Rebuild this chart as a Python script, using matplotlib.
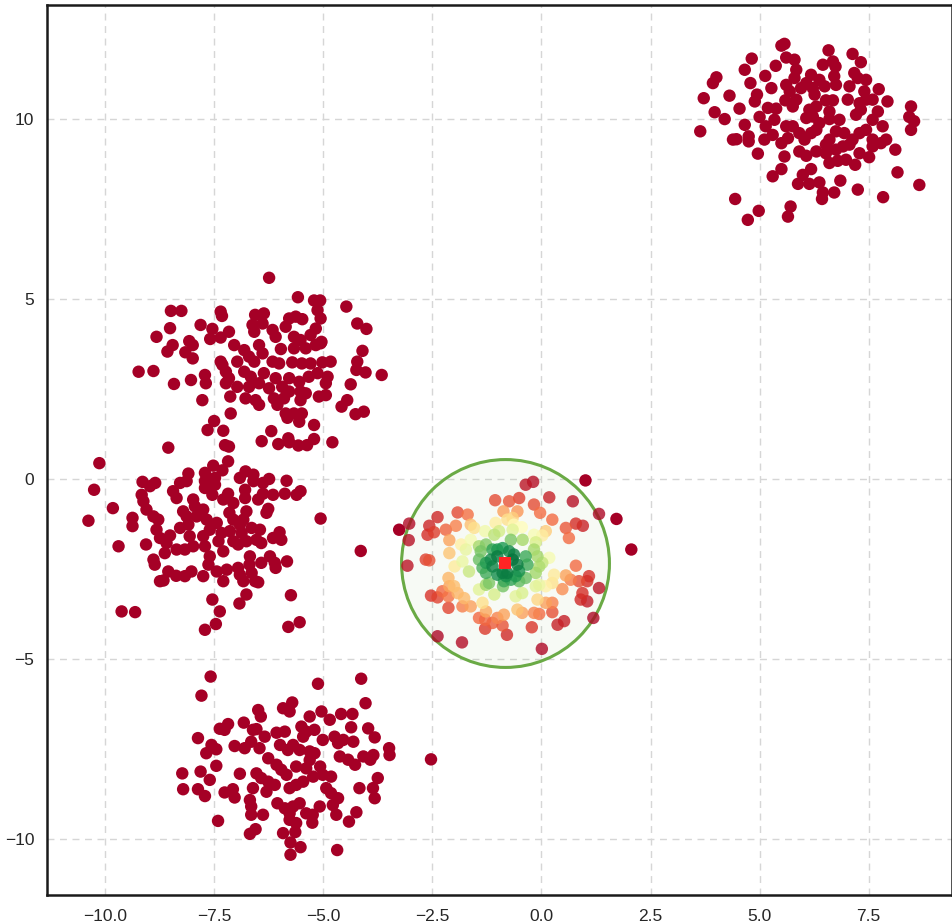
import numpy as np
import matplotlib
matplotlib.use("Agg")
import matplotlib.pyplot as plt

# ── Puntos de cada grupo (x, y) ───────────────────────────────────────────────
blob_top_right = np.array([
    (5.50, 12.04), (5.57, 12.09), (6.58, 11.91), (7.13, 11.81), (7.32, 11.58),
    (4.82, 11.68), (5.61, 11.71), (5.80, 11.65), (4.66, 11.37), (5.37, 11.48),
    (6.45, 11.51), (6.68, 11.60), (6.74, 11.46), (4.01, 11.16), (3.93, 11.00),
    (4.79, 11.00), (5.13, 11.20), (5.84, 11.37), (5.80, 11.14), (6.18, 11.23),
    (6.07, 11.00), (6.37, 11.09), (6.71, 11.19), (6.75, 10.95), (7.17, 11.28),
    (7.25, 11.14), (7.44, 11.09), (7.73, 10.83), (3.72, 10.58), (4.31, 10.65),
    (4.94, 10.68), (4.89, 10.49), (5.27, 10.86), (5.61, 10.95), (5.69, 10.77),
    (5.95, 10.86), (6.22, 10.86), (6.26, 10.68), (6.49, 10.91), (7.06, 10.91),
    (7.40, 10.77), (4.54, 10.29), (3.97, 10.19), (4.20, 10.00), (5.00, 10.06),
    (5.19, 10.31), (5.38, 10.29), (5.59, 10.52), (5.84, 10.54), (5.76, 10.35),
    (6.14, 10.26), (6.30, 10.35), (6.52, 10.52), (6.68, 10.52), (7.02, 10.54),
    (7.29, 10.44), (7.44, 10.54), (7.59, 10.54), (7.93, 10.49), (8.47, 10.35),
    (8.43, 10.06), (8.54, 9.94), (3.64, 9.66), (4.66, 9.84), (5.14, 9.80),
    (5.34, 9.98), (5.61, 9.80), (5.76, 9.80), (6.07, 10.03), (6.22, 10.07),
    (6.37, 9.89), (6.60, 10.21), (6.60, 10.00), (6.83, 9.98), (7.21, 10.12),
    (7.32, 10.26), (7.71, 10.21), (7.59, 9.98), (7.82, 9.80), (8.47, 9.70),
    (4.39, 9.43), (4.47, 9.44), (4.75, 9.52), (4.75, 9.38), (5.11, 9.43),
    (5.30, 9.56), (5.50, 9.33), (5.65, 9.47), (5.91, 9.61), (6.03, 9.43),
    (6.18, 9.61), (6.30, 9.70), (6.60, 9.43), (6.75, 9.66), (6.94, 9.61),
    (7.13, 9.43), (7.29, 9.61), (7.44, 9.70), (7.59, 9.43), (7.78, 9.33),
    (7.90, 9.43), (4.96, 9.04), (5.57, 8.96), (5.91, 9.10), (6.07, 8.98),
    (6.30, 9.10), (6.52, 9.29), (6.52, 9.05), (6.75, 9.15), (6.91, 9.24),
    (7.06, 9.29), (7.29, 9.05), (7.51, 8.94), (7.59, 9.24), (8.11, 9.15),
    (6.60, 8.78), (6.79, 8.84), (6.98, 8.87), (7.19, 8.73), (5.50, 8.61),
    (5.30, 8.41), (5.99, 8.45), (6.18, 8.61), (5.88, 8.20), (6.14, 8.20),
    (6.37, 8.24), (6.85, 8.29), (8.16, 8.52), (8.66, 8.17), (6.45, 7.96),
    (6.43, 7.78), (6.71, 7.96), (7.25, 8.04), (7.83, 7.83), (4.44, 7.78),
    (4.98, 7.45), (5.71, 7.57), (5.65, 7.29), (4.73, 7.20),
])

blob_upper_left = np.array([
    (-6.24, 5.59), (-5.58, 5.05), (-5.21, 4.96), (-5.07, 4.96), (-4.47, 4.79),
    (-8.49, 4.67), (-8.25, 4.67), (-7.35, 4.65), (-7.32, 4.53), (-5.13, 4.69),
    (-5.06, 4.46), (-6.56, 4.56), (-6.36, 4.60), (-5.78, 4.46), (-5.63, 4.51),
    (-5.48, 4.44), (-4.22, 4.32), (-4.01, 4.17), (-7.81, 4.28), (-8.51, 4.19),
    (-8.82, 3.95), (-7.54, 4.17), (-7.16, 4.09), (-7.59, 3.89), (-7.35, 3.93),
    (-6.62, 4.28), (-6.58, 4.09), (-6.39, 4.32), (-6.16, 4.14), (-6.09, 3.95),
    (-5.86, 4.23), (-5.17, 4.18), (-5.29, 4.00), (-5.67, 3.95), (-5.52, 3.86),
    (-5.04, 3.81), (-8.07, 3.83), (-7.99, 3.72), (-8.45, 3.72), (-8.57, 3.54),
    (-8.16, 3.52), (-7.99, 3.35), (-7.04, 3.72), (-6.81, 3.58), (-6.47, 3.72),
    (-5.97, 3.61), (-5.67, 3.63), (-5.40, 3.63), (-5.17, 3.72), (-5.06, 3.77),
    (-4.10, 3.56), (-7.35, 3.26), (-7.31, 3.17), (-6.97, 3.26), (-6.70, 3.40),
    (-6.58, 3.26), (-6.39, 3.49), (-6.16, 3.26), (-6.01, 3.21), (-5.71, 3.24),
    (-5.49, 3.21), (-5.29, 3.21), (-5.02, 3.24), (-4.83, 3.26), (-4.22, 3.26),
    (-4.24, 3.03), (-9.23, 2.98), (-8.89, 3.00), (-7.71, 2.89), (-7.69, 2.66),
    (-8.03, 2.75), (-8.42, 2.64), (-7.23, 2.98), (-7.16, 2.80), (-6.81, 2.98),
    (-6.66, 2.84), (-6.36, 2.94), (-6.09, 2.80), (-5.78, 2.80), (-5.55, 2.70),
    (-5.33, 2.84), (-5.13, 2.94), (-4.90, 2.84), (-4.94, 2.66), (-4.03, 2.96),
    (-3.66, 2.89), (-4.37, 2.63), (-7.23, 2.66), (-6.97, 2.56), (-6.70, 2.56),
    (-6.47, 2.66), (-6.24, 2.52), (-5.94, 2.56), (-5.78, 2.43), (-5.52, 2.43),
    (-5.40, 2.38), (-5.10, 2.29), (-4.94, 2.33), (-7.77, 2.19), (-7.13, 2.29),
    (-6.78, 2.24), (-6.55, 2.19), (-6.47, 2.06), (-6.13, 2.24), (-6.05, 2.06),
    (-5.90, 2.24), (-5.52, 2.19), (-4.45, 2.19), (-4.58, 2.01), (-4.26, 1.80),
    (-4.07, 1.87), (-7.12, 1.82), (-5.86, 1.82), (-5.82, 1.70), (-5.67, 1.82),
    (-5.49, 1.82), (-5.55, 1.59), (-7.50, 1.61), (-7.65, 1.36), (-7.29, 1.34),
    (-5.21, 1.50), (-6.19, 1.33), (-6.41, 1.05), (-6.03, 0.97), (-5.80, 1.13),
    (-5.78, 1.02), (-5.57, 0.93), (-5.37, 0.94), (-5.21, 1.11), (-4.79, 1.02),
    (-7.25, 0.94), (-7.16, 0.90), (-8.55, 0.87),
])

blob_left = np.array([
    (-10.13, 0.44), (-10.25, -0.30), (-10.38, -1.16), (-9.82, -0.81),
    (-9.69, -1.87), (-9.62, -3.68), (-9.31, -3.70), (-9.37, -1.08),
    (-9.37, -1.31), (-9.14, -0.08), (-8.97, -0.20), (-8.85, -0.11),
    (-9.16, -0.44), (-9.12, -0.62), (-9.05, -0.85), (-9.06, -1.82),
    (-8.89, -1.04), (-8.78, -1.13), (-8.82, -1.41), (-8.74, -1.64),
    (-8.89, -2.24), (-8.86, -2.38), (-8.74, -2.84), (-8.66, -2.82),
    (-8.55, -2.57), (-8.37, -2.69), (-8.63, -2.06), (-8.59, -1.78),
    (-8.51, -1.57), (-8.44, -0.34), (-8.28, -0.11), (-8.36, -0.53),
    (-8.09, 0.15), (-8.13, -0.06), (-8.21, -0.90), (-8.28, -1.36),
    (-8.36, -1.96), (-8.17, -2.70), (-8.02, -2.57), (-7.98, -0.57),
    (-7.94, -0.76), (-8.13, -1.04), (-8.09, -1.27), (-7.90, -1.04),
    (-8.06, -1.59), (-7.98, -1.87), (-8.17, -1.96), (-7.75, -2.70),
    (-7.71, 0.17), (-7.71, -0.06), (-7.71, -0.25), (-7.52, 0.37),
    (-7.48, 0.03), (-7.48, -0.16), (-7.54, -0.44), (-7.31, 0.24),
    (-7.18, 0.49), (-7.75, -0.85), (-7.67, -1.13), (-7.60, -1.41),
    (-7.75, -1.59), (-7.71, -1.87), (-7.60, -2.15), (-7.63, -2.38),
    (-7.44, -1.22), (-7.33, -1.50), (-7.40, -1.73), (-7.29, -2.01),
    (-7.44, -2.57), (-7.29, -2.84), (-7.21, -2.52), (-7.29, -0.57),
    (-7.18, -0.41), (-7.06, -0.67), (-7.15, -0.94), (-7.06, -1.13),
    (-7.14, -1.45), (-7.06, -1.73), (-7.54, -3.35), (-7.37, -3.68),
    (-7.46, -4.03), (-7.71, -4.19), (-6.91, 0.03), (-6.78, 0.21),
    (-6.60, 0.12), (-6.60, -0.06), (-6.79, -0.30), (-6.79, -0.53),
    (-6.49, -0.57), (-6.38, -0.11), (-6.24, 0.00), (-6.38, -0.41),
    (-6.15, -0.44), (-5.88, -0.41), (-5.84, -0.05), (-5.61, -0.44),
    (-5.52, -0.34), (-6.76, -0.90), (-6.83, -1.13), (-6.91, -1.27),
    (-6.87, -1.50), (-6.95, -1.82), (-6.76, -1.73), (-6.26, -0.83),
    (-6.30, -0.94), (-6.64, -1.36), (-6.45, -1.41), (-6.53, -1.69),
    (-6.42, -1.78), (-6.15, -1.64), (-6.00, -1.48), (-5.96, -1.69),
    (-6.68, -2.15), (-6.69, -2.38), (-6.42, -2.33), (-6.22, -2.15),
    (-6.09, -2.47), (-6.11, -2.33), (-5.83, -2.29), (-6.95, -2.47),
    (-6.91, -2.66), (-6.83, -2.84), (-6.64, -2.61), (-6.56, -2.84),
    (-6.49, -2.87), (-6.76, -3.21), (-6.92, -3.46), (-5.74, -3.23),
    (-5.06, -1.10), (-5.80, -4.11), (-5.54, -3.98), (-4.14, -2.00),
])

blob_bottom = np.array([
    (-7.58, -5.49), (-7.79, -6.02), (-5.12, -5.69), (-4.13, -5.55),
    (-4.03, -6.23), (-5.92, -6.37), (-5.71, -6.21), (-5.77, -6.46),
    (-6.49, -6.42), (-6.43, -6.60), (-5.31, -6.60), (-5.04, -6.46),
    (-4.85, -6.69), (-4.59, -6.53), (-4.33, -6.53), (-7.37, -6.94),
    (-7.18, -6.81), (-7.26, -6.97), (-6.82, -6.77), (-6.61, -6.97),
    (-6.53, -6.95), (-6.34, -7.16), (-6.07, -7.05), (-5.88, -7.02),
    (-5.50, -6.88), (-5.39, -7.02), (-5.20, -6.97), (-5.01, -7.25),
    (-4.74, -7.16), (-4.36, -6.90), (-3.97, -6.93), (-3.82, -7.18),
    (-7.87, -7.20), (-7.56, -7.39), (-7.45, -7.51), (-7.68, -7.62),
    (-7.03, -7.42), (-6.80, -7.48), (-6.65, -7.30), (-6.46, -7.48),
    (-6.26, -7.76), (-5.99, -7.39), (-5.81, -7.53), (-5.69, -7.39),
    (-5.46, -7.16), (-5.31, -7.57), (-5.20, -7.62), (-5.54, -7.53),
    (-4.66, -7.34), (-4.54, -7.25), (-4.31, -7.30), (-4.62, -7.71),
    (-4.43, -7.80), (-4.27, -7.94), (-4.08, -7.71), (-3.92, -7.80),
    (-3.85, -7.67), (-3.49, -7.48), (-3.48, -7.67), (-2.53, -7.79),
    (-8.23, -8.18), (-8.21, -8.62), (-7.81, -8.13), (-7.60, -8.36),
    (-7.87, -8.62), (-7.71, -8.81), (-7.45, -7.97), (-7.26, -8.71),
    (-7.07, -8.62), (-7.03, -8.85), (-6.91, -8.19), (-7.41, -9.50),
    (-6.61, -8.59), (-6.68, -8.92), (-6.65, -9.10), (-6.65, -9.33),
    (-6.53, -8.18), (-6.42, -8.31), (-6.26, -8.41), (-6.11, -8.50),
    (-6.30, -8.69), (-6.38, -9.33), (-6.68, -9.86), (-6.55, -9.73),
    (-6.07, -7.94), (-5.96, -8.08), (-5.84, -8.22), (-5.62, -7.99),
    (-5.39, -8.04), (-5.31, -7.81), (-5.07, -7.99), (-5.77, -8.59),
    (-5.62, -8.50), (-5.46, -8.41), (-5.23, -8.27), (-5.01, -8.22),
    (-4.82, -8.27), (-4.93, -8.59), (-4.82, -8.73), (-4.66, -8.87),
    (-4.78, -9.06), (-6.05, -9.01), (-5.88, -9.15), (-5.77, -9.29),
    (-5.69, -9.10), (-5.54, -9.01), (-5.39, -9.29), (-5.24, -9.33),
    (-5.08, -9.10), (-5.25, -9.55), (-5.77, -9.47), (-5.62, -9.56),
    (-5.92, -9.84), (-5.64, -9.81), (-5.75, -10.10), (-5.52, -10.23),
    (-5.75, -10.44), (-4.68, -10.31), (-4.70, -9.33), (-4.41, -9.52),
    (-4.24, -9.26), (-4.17, -8.59), (-3.86, -8.59), (-3.75, -8.31),
    (-3.82, -8.87),
])

blob_center = np.array([
    (-3.26, -1.41), (1.01, -0.04), (1.32, -0.97), (1.72, -1.11), (2.06, -1.96),
    (1.19, -3.86), (1.32, -3.03), (-0.36, -0.16), (-0.19, -0.08), (-1.06, -0.59),
    (-0.74, -0.62), (-0.51, -0.53), (0.18, -0.51), (0.72, -0.62), (-0.17, -0.71),
    (-0.03, -0.94), (-0.87, -0.90), (-0.55, -0.90), (-1.92, -0.93), (-1.69, -0.99),
    (-2.38, -1.06), (-3.03, -1.24), (-2.57, -1.30), (-2.46, -1.48), (-2.61, -1.55),
    (-2.19, -1.41), (-1.96, -1.30), (-1.62, -1.27), (-1.54, -1.36), (-1.05, -1.22),
    (-0.78, -1.13), (-0.66, -1.08), (-0.63, -1.27), (-0.45, -1.34), (0.25, -1.13),
    (0.79, -1.24), (0.95, -1.30), (0.56, -1.36), (0.10, -1.45), (0.02, -1.57),
    (0.63, -1.64), (-3.04, -1.70), (-2.11, -1.70), (-1.84, -1.82), (-1.73, -1.96),
    (-1.62, -1.69), (-1.29, -1.45), (-1.08, -1.55), (-0.97, -1.45), (-0.66, -1.41),
    (-0.43, -1.69), (-0.70, -1.69), (-0.17, -1.55), (-0.13, -1.76), (-1.27, -1.82),
    (-1.12, -1.96), (-1.39, -2.01), (-1.01, -1.96), (-0.89, -1.92), (-0.74, -2.01),
    (-0.63, -2.10), (-0.36, -2.15), (-0.32, -2.38), (-0.09, -2.15), (0.02, -2.33),
    (0.18, -2.19), (-2.11, -2.06), (-2.65, -2.24), (-2.57, -2.26), (-3.07, -2.41),
    (-1.99, -2.43), (-1.66, -2.57), (-1.43, -2.24), (-1.35, -2.47), (-1.27, -2.61),
    (-1.12, -2.43), (-1.01, -2.66), (-0.89, -2.61), (-0.78, -2.61), (-0.81, -2.70),
    (-0.59, -2.70), (-0.51, -2.84), (-0.36, -2.75), (0.79, -2.41), (0.29, -2.66),
    (0.25, -2.89), (0.56, -2.68), (0.67, -2.80), (0.86, -2.84), (1.09, -2.70),
    (1.05, -2.84), (-2.13, -2.75), (-2.11, -2.98), (-2.27, -3.12), (-2.00, -2.98),
    (-1.92, -3.17), (-2.53, -3.24), (-2.38, -3.29), (-2.13, -3.26), (-1.77, -3.31),
    (-1.43, -3.07), (-1.27, -2.94), (-1.20, -2.89), (-1.08, -3.21), (-0.88, -2.98),
    (-0.59, -3.26), (-0.44, -3.17), (-0.13, -2.98), (-0.05, -2.94), (-0.09, -3.35),
    (0.10, -3.44), (0.25, -3.44), (0.48, -3.06), (0.94, -3.17), (0.90, -3.35),
    (1.05, -3.40), (-2.13, -3.58), (-1.81, -3.54), (-1.62, -3.54), (-1.35, -3.44),
    (-1.27, -3.68), (-1.43, -3.86), (-1.29, -3.91), (-1.12, -4.00), (-1.01, -3.86),
    (-0.86, -3.77), (-0.89, -4.07), (-0.79, -4.33), (-1.29, -4.16), (-0.55, -3.63),
    (-0.44, -3.72), (-0.17, -3.72), (-0.05, -3.75), (0.25, -3.70), (0.37, -4.05),
    (0.52, -3.95), (-0.22, -4.12), (-2.38, -4.37), (-1.82, -4.54), (0.01, -4.72),
    (-1.01, -2.15), (-0.66, -2.24), (-0.55, -2.38), (-1.16, -2.24), (-1.27, -2.33),
    (-0.51, -2.56), (-0.70, -2.80), (-0.86, -2.84), (-0.17, -1.96), (-1.43, -1.87),
    (-0.05, -2.43), (-0.13, -2.61), (-1.81, -2.29), (0.10, -2.98),
])

# Ventana actual: centro y ancho de banda del kernel
WINDOW_CENTER = (-0.83, -2.34)
BANDWIDTH = 2.6
KERNEL_SIGMA = 0.9

pts = np.vstack([blob_top_right, blob_upper_left, blob_left, blob_bottom, blob_center])

# Peso gaussiano respecto al centro; fuera de la ventana vale 0
d = np.hypot(pts[:, 0] - WINDOW_CENTER[0], pts[:, 1] - WINDOW_CENTER[1])
w = np.exp(-d**2 / (2 * KERNEL_SIGMA**2))
inside = d < BANDWIDTH
w[~inside] = 0.0

cmap = plt.get_cmap("RdYlGn")
colors = cmap(w)
colors[inside, 3] = 0.8

order = np.argsort(w)

plt.rcParams["font.family"] = ["Liberation Sans", "DejaVu Sans"]

fig = plt.figure(figsize=(9.53, 9.23), dpi=100)
ax = fig.add_axes([0.0493, 0.0303, 0.9497, 0.9643])

# ventana circular (en pantalla) con relleno muy suave
ax.scatter([WINDOW_CENTER[0]], [WINDOW_CENTER[1]], s=22400, marker="o",
           facecolor=(0.42, 0.67, 0.27, 0.05), edgecolor="#6aaa45",
           linewidth=2.2, zorder=2)

ax.scatter(pts[order, 0], pts[order, 1], c=colors[order], s=80,
           linewidths=0, zorder=3)

ax.scatter([WINDOW_CENTER[0]], [WINDOW_CENTER[1]], s=64, marker="s",
           color="#ff2424", linewidths=0, zorder=4)

ax.set_xlim(-11.33, 9.41)
ax.set_ylim(-11.56, 13.17)
ax.set_xticks([-10.0, -7.5, -5.0, -2.5, 0.0, 2.5, 5.0, 7.5])
ax.set_yticks([-10, -5, 0, 5, 10])

ax.grid(True, linestyle=(0, (5, 4)), color="#d6d6d6", linewidth=1.0)
ax.set_axisbelow(True)
ax.tick_params(length=0, labelsize=12.5, labelcolor="#262626")
ax.tick_params(axis="x", pad=10)
ax.tick_params(axis="y", pad=9)
for sp in ax.spines.values():
    sp.set_color("#1a1a1a")
    sp.set_linewidth(1.8)

fig.savefig("out.png", dpi=100)
